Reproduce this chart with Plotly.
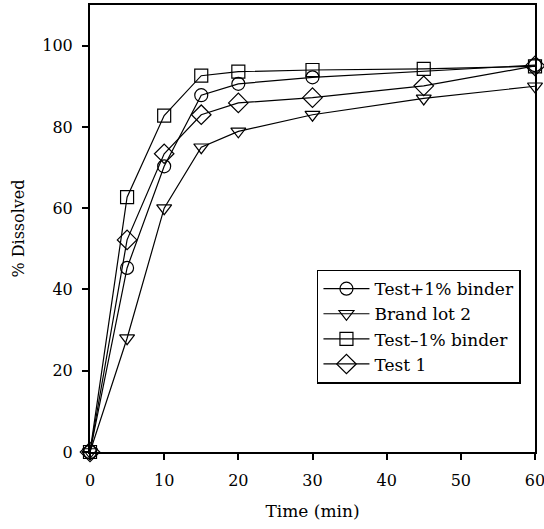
import plotly.graph_objects as go

time_a = [0, 5, 10, 15, 20, 30, 60]
plus_binder = [0, 45.3, 70.3, 87.8, 90.6, 92.2, 95.2]

time_b = [0, 5, 10, 15, 20, 30, 45, 60]
brand_lot2 = [0, 28.0, 60.0, 75.0, 78.9, 83.0, 87.0, 90.0]
minus_binder = [0, 62.7, 82.8, 92.6, 93.6, 94.0, 94.3, 94.9]
test1 = [0, 52.2, 73.4, 83.0, 85.9, 87.2, 90.1, 95.0]

series = [
    ("Test+1% binder", time_a, plus_binder, "circle-open", 13),
    ("Brand lot 2", time_b, brand_lot2, "triangle-down-open", 13),
    ("Test\u20131% binder", time_b, minus_binder, "square-open", 13),
    ("Test 1", time_b, test1, "diamond-open", 15),
]

FONT = "DejaVu Serif"

fig = go.Figure()
for name, xs, ys, sym, sz in series:
    fig.add_trace(go.Scatter(
        x=xs, y=ys, name=name, mode="lines+markers",
        line=dict(color="black", width=1.2),
        marker=dict(symbol=sym, size=sz, color="black", line=dict(width=1.2, color="black")),
        cliponaxis=False,
    ))

fig.update_layout(
    width=544, height=529,
    margin=dict(l=90, r=9, t=5, b=77),
    paper_bgcolor="white", plot_bgcolor="white",
    font=dict(family=FONT, size=16, color="black"),
    showlegend=True,
    legend=dict(
        x=0.51, y=0.408, xanchor="left", yanchor="top",
        bordercolor="black", borderwidth=1.5, bgcolor="white",
        font=dict(family=FONT, size=17, color="black"),
        tracegroupgap=0, itemsizing="trace", itemwidth=46,
    ),
    xaxis=dict(
        range=[0, 60], tickvals=[0, 10, 20, 30, 40, 50, 60],
        showgrid=False, zeroline=False, automargin=False,
        showline=True, linecolor="black", linewidth=2, mirror=True,
        ticks="outside", ticklen=6, tickwidth=2, tickcolor="black",
        ticklabelstandoff=7, ticklabeloverflow="allow",
        title=dict(text="Time (min)", font=dict(family=FONT, size=17), standoff=16),
        tickfont=dict(family=FONT, size=16),
    ),
    yaxis=dict(
        range=[0, 110], tickvals=[0, 20, 40, 60, 80, 100],
        showgrid=False, zeroline=False, automargin=False,
        showline=True, linecolor="black", linewidth=2, mirror=True,
        ticks="outside", ticklen=6, tickwidth=2, tickcolor="black",
        ticklabelstandoff=6, ticklabeloverflow="allow",
        title=dict(text="% Dissolved", font=dict(family=FONT, size=16), standoff=14),
        tickfont=dict(family=FONT, size=16),
    ),
)

fig.write_html("out.html")
